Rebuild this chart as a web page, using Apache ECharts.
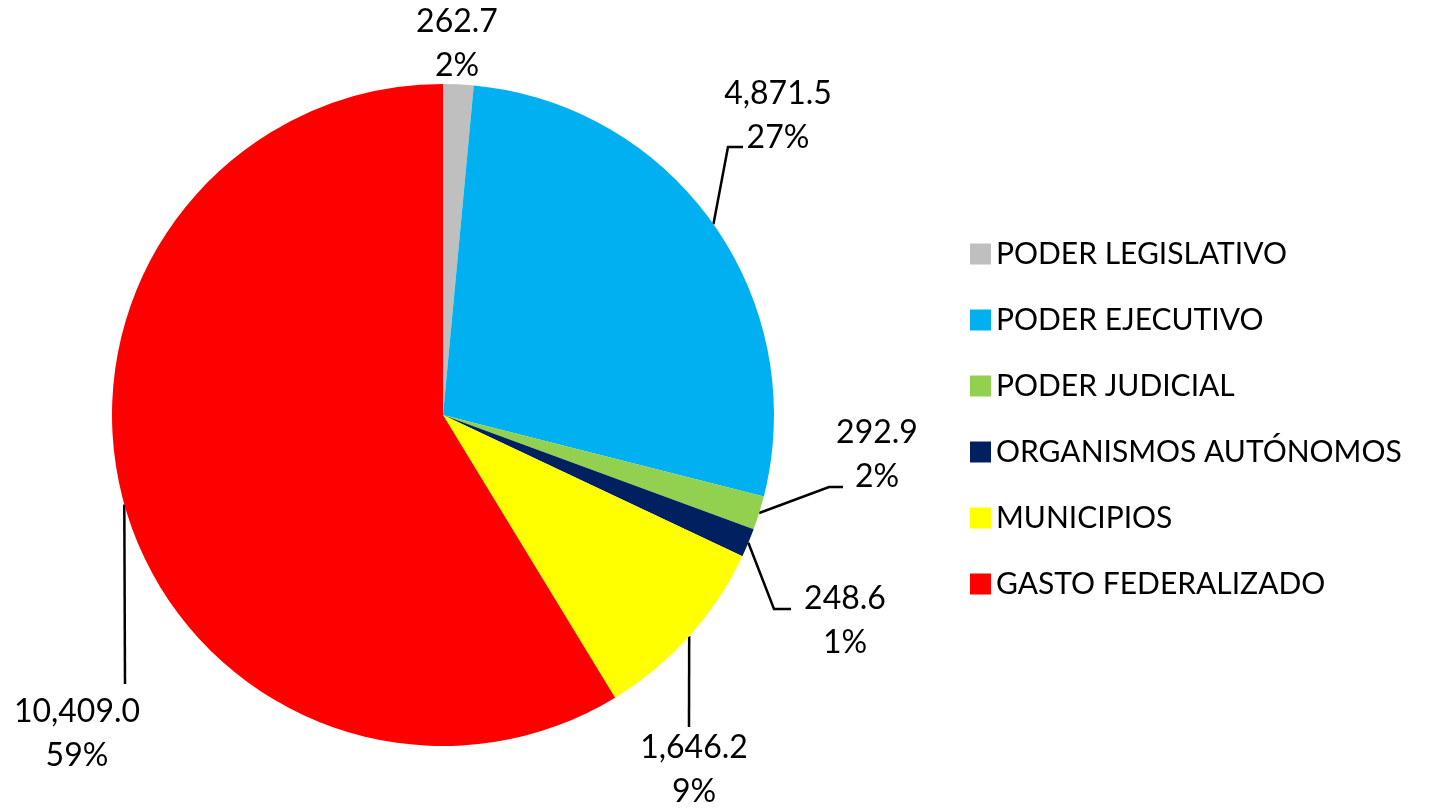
<!DOCTYPE html>
<html>
<head>
<meta charset="utf-8">
<script src="https://cdn.jsdelivr.net/npm/echarts@6/dist/echarts.min.js"></script>
<style>
  html, body { margin: 0; padding: 0; background: #fff; }
  #chart { width: 1431px; height: 811px; }
</style>
</head>
<body>
<div id="chart"></div>
<script>
var categorias = ['PODER LEGISLATIVO', 'PODER EJECUTIVO', 'PODER JUDICIAL', 'ORGANISMOS AUTÓNOMOS', 'MUNICIPIOS', 'GASTO FEDERALIZADO']
var valores = [262.7, 4871.5, 292.9, 248.6, 1646.2, 10409.0]
var porcentajes = ['2%', '27%', '2%', '1%', '9%', '59%']
var colores = ['#BFBFBF', '#00B0F0', '#92D050', '#002060', '#FFFF00', '#FF0000']

// posicion de cada etiqueta (centro) y codo de la linea guia
var etiquetas = [
  { x: 457, y: 44, linea: null },
  { x: 778, y: 116, linea: [[728, 147], [743, 147]] },
  { x: 877, y: 455, linea: [[829, 487], [843, 487]] },
  { x: 845, y: 621, linea: [[774, 609], [791, 609]] },
  { x: 694, y: 770, linea: [[689, 727], [689, 727]] },
  { x: 77, y: 734, linea: [[125, 684], [125, 684]] }
]

var fuente = 'Lato'
var chart = echarts.init(document.getElementById('chart'))

var datos = categorias.map(function (c, i) {
  return {
    name: c,
    value: valores[i],
    itemStyle: { color: colores[i] },
    labelLine: { show: etiquetas[i].linea !== null }
  }
})

chart.setOption({
  animation: false,
  legend: {
    orient: 'vertical',
    left: 965,
    top: 234,
    itemWidth: 21,
    itemHeight: 21,
    itemGap: 36,
    icon: 'rect',
    selectedMode: false,
    textStyle: {
      fontFamily: fuente,
      fontSize: 30,
      color: '#000'
    },
    data: categorias
  },
  series: [
    {
      type: 'pie',
      center: [443, 415],
      radius: 331,
      startAngle: 90,
      clockwise: true,
      avoidLabelOverlap: false,
      data: datos,
      label: {
        show: true,
        position: 'outside',
        fontFamily: fuente,
        fontSize: 32,
        lineHeight: 44,
        color: '#000',
        align: 'center',
        formatter: function (p) {
          return echarts.format.addCommas(p.value.toFixed(1)) + '\n' + porcentajes[p.dataIndex]
        }
      },
      labelLine: {
        show: true,
        lineStyle: { color: '#000', width: 2.5 }
      },
      labelLayout: function (params) {
        var e = etiquetas[params.dataIndex]
        var res = {
          x: e.x,
          y: e.y,
          align: 'center',
          verticalAlign: 'middle'
        }
        if (e.linea && params.labelLinePoints) {
          res.labelLinePoints = [params.labelLinePoints[0], e.linea[0], e.linea[1]]
        }
        return res
      }
    }
  ]
})
</script>
</body>
</html>
